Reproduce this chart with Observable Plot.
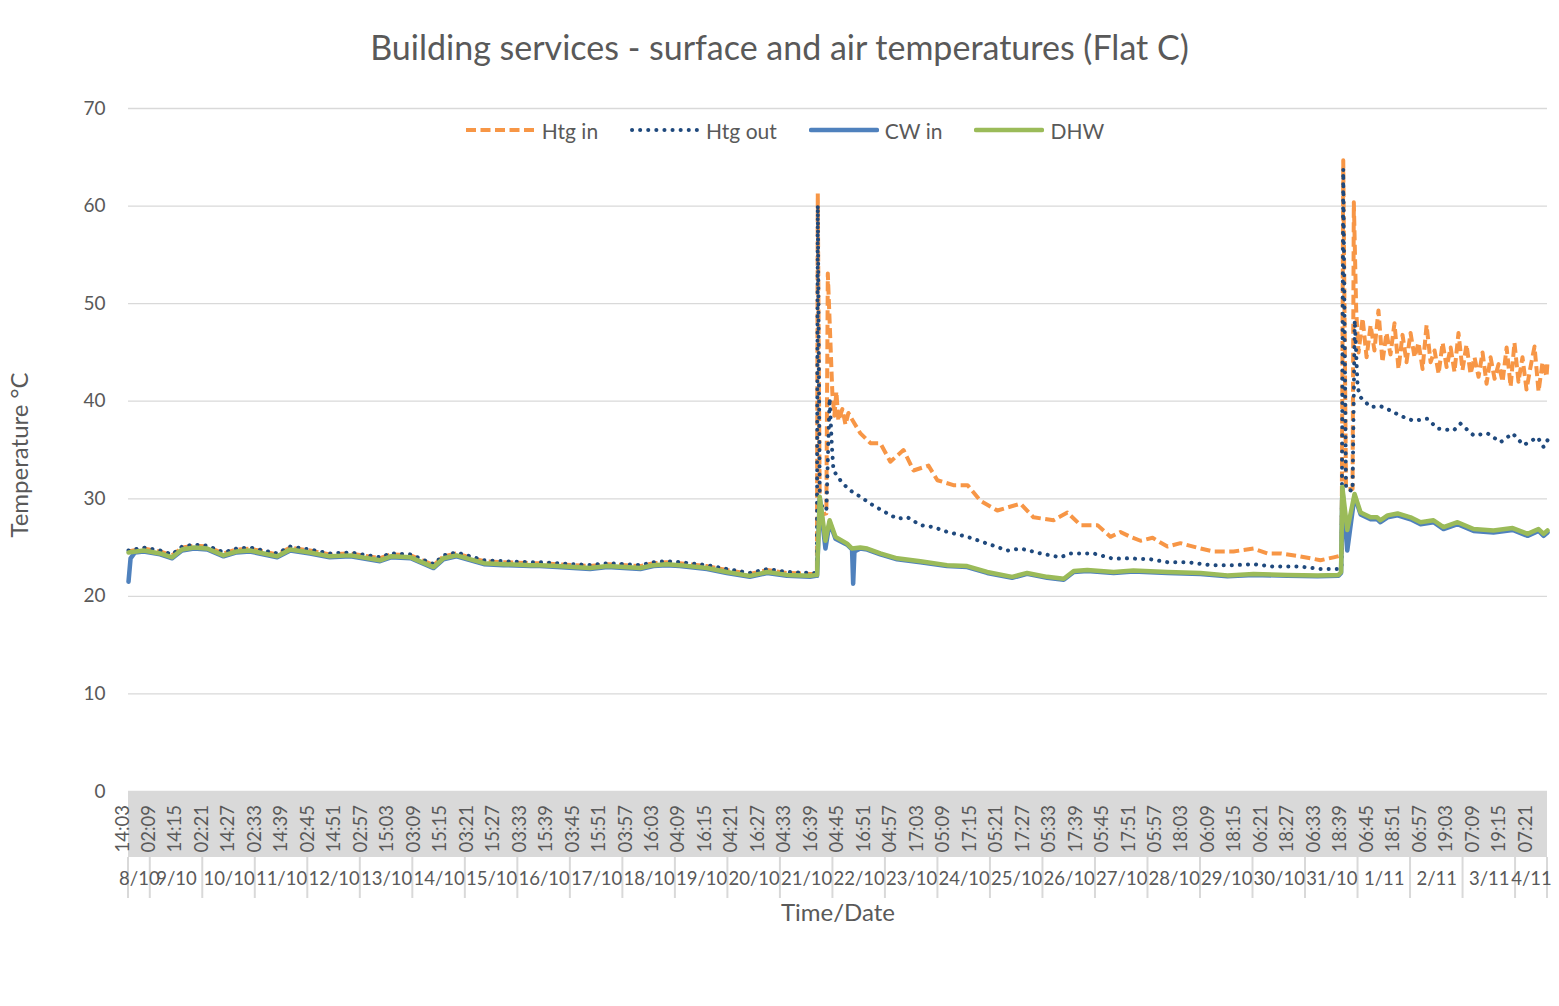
<!DOCTYPE html>
<html><head><meta charset="utf-8">
<script src="https://cdn.jsdelivr.net/npm/d3@7"></script>
<script src="https://cdn.jsdelivr.net/npm/@observablehq/plot@0.6"></script>
<style>
body{margin:0;background:#fff;font-family:Lato,"Open Sans",sans-serif;color:#595959}
#wrap{position:relative;width:1559px;height:1006px;overflow:hidden}
#title{height:90px;line-height:94px;text-align:center;font-size:34px;white-space:nowrap}
#legend{position:absolute;top:118px;left:0;width:1570px;display:flex;justify-content:center;gap:32px;font-size:21px;align-items:center;height:24px}
.item{display:flex;align-items:center;gap:6px}
</style></head><body>
<div id="wrap">
<div id="title">Building services - surface and air temperatures (Flat C)</div>
<div id="chart"></div>
<div id="legend"></div>
</div>
<script>
// ---------- data ----------
const seriesNames = ["Htg in", "Htg out", "CW in", "DHW"];
const domainStart = "08/10 14:03";
const domainEnd = "04/11 14:36";
const yTicks = [0, 10, 20, 30, 40, 50, 60, 70];

const timeTicks = ["08/10 14:03","09/10 02:09","09/10 14:15","10/10 02:21","10/10 14:27","11/10 02:33","11/10 14:39","12/10 02:45","12/10 14:51","13/10 02:57","13/10 15:03","14/10 03:09","14/10 15:15","15/10 03:21","15/10 15:27","16/10 03:33","16/10 15:39","17/10 03:45","17/10 15:51","18/10 03:57","18/10 16:03","19/10 04:09","19/10 16:15","20/10 04:21","20/10 16:27","21/10 04:33","21/10 16:39","22/10 04:45","22/10 16:51","23/10 04:57","23/10 17:03","24/10 05:09","24/10 17:15","25/10 05:21","25/10 17:27","26/10 05:33","26/10 17:39","27/10 05:45","27/10 17:51","28/10 05:57","28/10 18:03","29/10 06:09","29/10 18:15","30/10 06:21","30/10 18:27","31/10 06:33","31/10 18:39","01/11 06:45","01/11 18:51","02/11 06:57","02/11 19:03","03/11 07:09","03/11 19:15","04/11 07:21"];

const dateLabels = ["8/10","9/10","10/10","11/10","12/10","13/10","14/10","15/10","16/10","17/10","18/10","19/10","20/10","21/10","22/10","23/10","24/10","25/10","26/10","27/10","28/10","29/10","30/10","31/10","1/11","2/11","3/11","4/11"];

// common times for the quiet period (8/10 - 21/10)
const baseTimes = ["08/10 14:03","08/10 21:00","09/10 04:30","09/10 10:00","09/10 14:30","09/10 20:00","10/10 02:00","10/10 09:30","10/10 15:30","10/10 21:30","11/10 10:00","11/10 16:00","12/10 01:00","12/10 10:00","12/10 19:30","13/10 09:00","13/10 14:00","13/10 23:00","14/10 09:30","14/10 14:00","14/10 20:00","15/10 08:30","15/10 17:30","16/10 06:00","16/10 10:00","16/10 18:00","17/10 09:00","17/10 17:00","18/10 08:00","18/10 14:00","18/10 20:00","19/10 02:00","19/10 14:30","19/10 23:30","20/10 10:00","20/10 18:00","21/10 03:00","21/10 13:30","21/10 16:15"];
const htgInBase  = [24.6,24.9,24.6,24.2,25.0,25.2,25.1,24.4,24.8,24.9,24.3,25.0,24.7,24.3,24.4,23.9,24.3,24.2,23.2,24.1,24.4,23.6,23.5,23.4,23.4,23.3,23.1,23.3,23.1,23.4,23.5,23.4,23.1,22.7,22.3,22.7,22.4,22.3,22.3];
const htgOutBase = [24.7,25.0,24.7,24.3,25.1,25.3,25.2,24.5,24.9,25.0,24.4,25.1,24.8,24.4,24.5,24.0,24.4,24.3,23.3,24.2,24.5,23.7,23.6,23.5,23.5,23.4,23.2,23.4,23.2,23.5,23.6,23.5,23.2,22.8,22.4,22.8,22.5,22.4,22.4];
const cwInBase   = [21.5,24.6,24.3,23.9,24.7,24.9,24.8,24.1,24.5,24.6,24.0,24.7,24.4,24.0,24.1,23.6,24.0,23.9,22.9,23.8,24.1,23.3,23.2,23.1,23.1,23.0,22.8,23.0,22.8,23.1,23.2,23.1,22.8,22.4,22.0,22.4,22.1,22.0,22.1];
const dhwBase    = [24.5,24.7,24.4,24.0,24.8,25.0,24.9,24.2,24.6,24.7,24.1,24.8,24.5,24.1,24.2,23.7,24.1,24.0,23.0,23.9,24.2,23.4,23.3,23.2,23.2,23.1,22.9,23.1,22.9,23.2,23.3,23.2,22.9,22.5,22.1,22.5,22.2,22.1,22.2];

// heating period readings [time, °C]
const htgInRest = [["21/10 16:41",22.4],["21/10 17:05",61.3],["21/10 18:00",28.3],["21/10 21:00",28.5],["21/10 21:40",53.1],["21/10 23:45",40.8],["22/10 00:40",38.5],["22/10 01:35",41.0],["22/10 02:30",38.0],["22/10 04:20",39.2],["22/10 05:45",37.6],["22/10 07:05",38.8],["22/10 08:00",38.4],["22/10 12:35",36.7],["22/10 17:10",35.7],["22/10 21:40",35.7],["23/10 02:15",33.8],["23/10 08:15",35.0],["23/10 12:50",32.9],["23/10 19:40",33.4],["23/10 23:45",31.9],["24/10 07:05",31.4],["24/10 13:30",31.4],["24/10 19:25",29.8],["25/10 03:10",28.8],["25/10 13:45",29.5],["25/10 19:40",28.1],["26/10 04:50",27.8],["26/10 11:10",28.6],["26/10 17:10",27.3],["27/10 00:55",27.3],["27/10 06:50",26.1],["27/10 11:25",26.6],["27/10 16:00",26.1],["27/10 20:35",25.7],["28/10 02:05",26.0],["28/10 08:55",25.1],["28/10 14:50",25.45],["29/10 00:00",24.9],["29/10 05:55",24.6],["29/10 15:05",24.6],["30/10 00:15",24.9],["30/10 06:40",24.4],["30/10 12:35",24.4],["30/10 21:30",24.1],["31/10 06:50",23.7],["31/10 12:50",24.0],["31/10 16:30",24.2],["31/10 17:15",64.7],["31/10 18:30",31.0],["31/10 21:30",31.0],["31/10 22:05",60.4],["31/10 23:10",49.3],["01/11 00:15",45.0],["01/11 02:05",48.5],["01/11 03:55",44.5],["01/11 05:45",47.8],["01/11 07:30",45.2],["01/11 09:20",49.3],["01/11 11:10",44.0],["01/11 13:00",47.0],["01/11 14:50",44.8],["01/11 16:40",48.0],["01/11 18:30",43.3],["01/11 20:20",46.8],["01/11 22:10",44.0],["02/11 00:00",47.0],["02/11 01:50",44.5],["02/11 03:40",46.0],["02/11 05:30",43.3],["02/11 07:20",47.8],["02/11 09:10",44.0],["02/11 11:00",45.2],["02/11 12:50",42.8],["02/11 14:40",46.0],["02/11 16:30",43.5],["02/11 18:20",45.5],["02/11 20:05",43.0],["02/11 21:55",47.0],["02/11 23:45",43.2],["03/11 01:35",45.8],["03/11 03:25",42.8],["03/11 05:15",44.5],["03/11 07:05",42.5],["03/11 08:55",45.0],["03/11 10:45",41.8],["03/11 12:35",44.5],["03/11 14:25",42.3],["03/11 16:15",43.8],["03/11 18:05",42.0],["03/11 19:55",45.5],["03/11 21:45",41.5],["03/11 23:30",46.0],["04/11 01:20",42.0],["04/11 03:10",44.5],["04/11 05:00",41.2],["04/11 06:50",43.5],["04/11 08:40",45.6],["04/11 10:30",41.0],["04/11 12:20",44.0],["04/11 14:10",42.5],["04/11 14:36",44.0]];

const htgOutRest = [["21/10 16:41",22.4],["21/10 17:05",60.1],["21/10 18:00",29.5],["21/10 21:00",28.8],["21/10 22:30",40.3],["21/10 23:30",35.5],["22/10 00:15",32.9],["22/10 04:20",31.6],["22/10 08:00",30.85],["22/10 12:35",30.2],["22/10 18:30",29.3],["23/10 00:55",28.5],["23/10 05:30",27.95],["23/10 10:05",28.1],["23/10 16:00",27.3],["23/10 21:55",27.1],["24/10 04:20",26.6],["24/10 13:30",26.1],["24/10 22:40",25.4],["25/10 07:45",24.7],["25/10 13:45",24.9],["25/10 22:50",24.4],["26/10 08:00",24.0],["26/10 12:35",24.4],["26/10 23:05",24.4],["27/10 08:15",23.85],["27/10 14:40",23.9],["28/10 01:10",23.8],["28/10 08:55",23.5],["28/10 18:05",23.5],["29/10 04:35",23.2],["29/10 15:05",23.2],["30/10 00:15",23.3],["30/10 09:20",23.05],["30/10 21:30",23.05],["31/10 06:50",22.8],["31/10 15:05",22.8],["31/10 16:30",22.9],["31/10 17:15",63.8],["31/10 18:30",31.0],["31/10 21:30",30.8],["31/10 22:30",48.3],["31/10 23:50",41.4],["01/11 01:10",40.4],["01/11 05:45",39.4],["01/11 10:15",39.5],["01/11 14:50",39.05],["01/11 19:25",38.5],["02/11 01:20",38.0],["02/11 07:45",38.2],["02/11 12:20",37.2],["02/11 19:40",37.0],["02/11 22:50",37.7],["03/11 04:50",36.5],["03/11 11:10",36.7],["03/11 17:10",35.8],["03/11 22:40",36.7],["04/11 03:40",35.5],["04/11 10:05",36.3],["04/11 12:50",35.3],["04/11 14:36",36.0]];

const cwInRest = [["08/10 15:00",23.9],["08/10 17:00",24.5],["21/10 16:45",22.1],["21/10 18:00",30.0],["21/10 20:35",24.9],["21/10 22:30",27.6],["22/10 01:10",25.9],["22/10 06:30",25.3],["22/10 08:45",24.8],["22/10 09:15",21.3],["22/10 09:50",24.6],["22/10 12:30",24.9],["22/10 15:40",24.8],["22/10 21:40",24.3],["23/10 05:20",23.8],["23/10 16:00",23.5],["24/10 04:10",23.1],["24/10 13:20",23.0],["24/10 22:30",22.4],["25/10 09:55",21.9],["25/10 16:45",22.3],["26/10 01:55",21.9],["26/10 09:30",21.7],["26/10 14:05",22.5],["26/10 20:15",22.6],["27/10 08:20",22.4],["27/10 17:20",22.55],["28/10 08:55",22.4],["29/10 00:00",22.3],["29/10 12:20",22.05],["30/10 00:15",22.2],["30/10 15:45",22.1],["31/10 05:30",22.05],["31/10 15:05",22.1],["31/10 16:15",22.4],["31/10 16:50",31.0],["31/10 19:05",24.7],["31/10 22:25",30.3],["01/11 01:10",28.4],["01/11 05:45",27.9],["01/11 08:45",27.9],["01/11 10:15",27.6],["01/11 13:30",28.1],["01/11 18:05",28.3],["02/11 00:00",27.9],["02/11 04:35",27.4],["02/11 10:30",27.6],["02/11 15:05",26.9],["02/11 21:30",27.4],["03/11 04:50",26.7],["03/11 13:55",26.55],["03/11 22:40",26.8],["04/11 05:30",26.2],["04/11 10:30",26.7],["04/11 12:50",26.2],["04/11 14:36",26.55]];

const dhwRest = [["21/10 16:45",22.2],["21/10 18:00",30.2],["21/10 20:35",25.7],["21/10 22:30",27.8],["22/10 01:10",26.1],["22/10 06:30",25.4],["22/10 08:45",24.9],["22/10 12:30",25.0],["22/10 15:40",24.9],["22/10 21:40",24.4],["23/10 05:20",23.9],["23/10 16:00",23.6],["24/10 04:10",23.2],["24/10 13:20",23.1],["24/10 22:30",22.5],["25/10 09:55",22.0],["25/10 16:45",22.4],["26/10 01:55",22.0],["26/10 09:30",21.8],["26/10 14:05",22.6],["26/10 20:15",22.7],["27/10 08:20",22.5],["27/10 17:20",22.65],["28/10 08:55",22.5],["29/10 00:00",22.4],["29/10 12:20",22.15],["30/10 00:15",22.3],["30/10 15:45",22.2],["31/10 05:30",22.15],["31/10 15:05",22.2],["31/10 16:15",22.5],["31/10 16:50",31.2],["31/10 19:05",26.8],["31/10 22:25",30.5],["01/11 01:10",28.6],["01/11 05:45",28.1],["01/11 08:45",28.1],["01/11 10:15",27.8],["01/11 13:30",28.3],["01/11 18:05",28.5],["02/11 00:00",28.1],["02/11 04:35",27.6],["02/11 10:30",27.8],["02/11 15:05",27.1],["02/11 21:30",27.6],["03/11 04:50",26.9],["03/11 13:55",26.75],["03/11 22:40",27.0],["04/11 05:30",26.4],["04/11 10:30",26.9],["04/11 12:50",26.4],["04/11 14:36",26.75]];

// ---------- build ----------
const parse = d3.utcParse("%Y %d/%m %H:%M");
const T = s => parse("2019 " + s);
const t0 = T(domainStart), t1 = T(domainEnd);

function build(name, baseVals, rest) {
  const rows = baseTimes.map((s, i) => ({series: name, t: T(s), v: baseVals[i]}))
    .concat(rest.map(([s, v]) => ({series: name, t: T(s), v})));
  return rows.sort((a, b) => a.t - b.t);
}
const data = {
  "Htg in": build("Htg in", htgInBase, htgInRest),
  "Htg out": build("Htg out", htgOutBase, htgOutRest),
  "CW in": build("CW in", cwInBase, cwInRest),
  "DHW": build("DHW", dhwBase, dhwRest)
};

const styles = {
  "Htg in":  {stroke: "#F79646", strokeWidth: 4, strokeDasharray: "10,4.5", strokeLinecap: "butt"},
  "Htg out": {stroke: "#1F497D", strokeWidth: 4, strokeDasharray: "0.1,8", strokeLinecap: "round"},
  "CW in":   {stroke: "#4F81BD", strokeWidth: 4.5, strokeLinecap: "round"},
  "DHW":     {stroke: "#9BBB59", strokeWidth: 4.5, strokeLinecap: "round"}
};

const tickDates = timeTicks.map(T);
const DAY = 864e5;
const days = dateLabels.map(l => {
  const d0 = T(l + " 00:00");
  const a = Math.max(+d0, +t0), b = Math.min(+d0 + DAY, +t1);
  return {label: l, start: new Date(a), mid: new Date((a + b) / 2)};
});
const edges = days.map(d => d.start).concat([t1]);

// category band + group separators beneath the plot frame
function axisBand(index, scales, values, dims) {
  const g = d3.create("svg:g");
  const left = dims.marginLeft, right = dims.width - dims.marginRight;
  const bottom = dims.height - dims.marginBottom;
  g.append("rect").attr("x", left).attr("y", bottom + 1).attr("width", right - left)
    .attr("height", 65).attr("fill", "#d9d9d9");
  for (const e of edges) {
    const x = scales.x(e);
    g.append("line").attr("x1", x).attr("x2", x).attr("y1", bottom + 66).attr("y2", bottom + 107)
      .attr("stroke", "#d9d9d9").attr("stroke-width", 2);
  }
  return g.node();
}

const chart = Plot.plot({
  width: 1559,
  height: 916,
  marginTop: 18,
  marginBottom: 215,
  marginLeft: 128,
  marginRight: 12,
  style: {fontFamily: "Lato, 'Open Sans', sans-serif", fontSize: "19px", color: "#595959", background: "#fff", overflow: "visible"},
  x: {type: "utc", domain: [t0, t1], axis: null},
  y: {domain: [0, 70]},
  marks: [
    Plot.ruleY(yTicks, {stroke: "#d9d9d9", strokeWidth: 1.3}),
    Plot.axisY({ticks: yTicks, tickSize: 0, tickPadding: 23, label: null, fontSize: 19}),
    axisBand,
    Plot.text(tickDates, {x: d => d, text: d => d3.utcFormat("%H:%M")(d), frameAnchor: "bottom", rotate: -90, textAnchor: "start", dy: 61, fontSize: 18.5}),
    Plot.text(days, {x: "mid", text: "label", frameAnchor: "bottom", dy: 93, fontSize: 18.5}),
    Plot.text(["Time/Date"], {frameAnchor: "bottom", dy: 129, fontSize: 24}),
    Plot.text(["Temperature °C"], {frameAnchor: "left", textAnchor: "middle", rotate: -90, dx: -108, dy: 5, fontSize: 24}),
    ...seriesNames.map(n => Plot.line(data[n], {x: "t", y: "v", ...styles[n], strokeLinejoin: "round"}))
  ]
});
document.getElementById("chart").appendChild(chart);

// legend
const legend = d3.select("#legend");
for (const n of seriesNames) {
  const s = styles[n];
  const it = legend.append("div").attr("class", "item");
  const sv = it.append("svg").attr("width", 70).attr("height", 12);
  sv.append("line").attr("x1", s.strokeLinecap === "round" ? 2 : 0).attr("x2", s.strokeLinecap === "round" ? 68 : 70)
    .attr("y1", 6).attr("y2", 6)
    .attr("stroke", s.stroke).attr("stroke-width", s.strokeWidth)
    .attr("stroke-dasharray", s.strokeDasharray || null)
    .attr("stroke-linecap", s.strokeLinecap);
  it.append("span").text(n);
}
</script>
</body></html>
